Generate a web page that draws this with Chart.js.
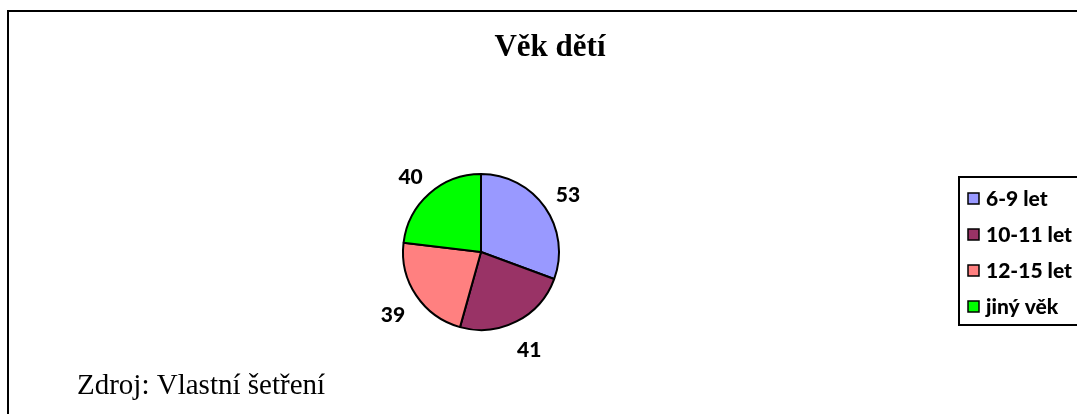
<!DOCTYPE html>
<html>
<head>
<meta charset="utf-8">
<script src="https://cdn.jsdelivr.net/npm/chart.js@4/dist/chart.umd.min.js"></script>
<style>
  html, body { margin: 0; padding: 0; background: #fff; }
  #wrap { width: 1077px; height: 414px; position: relative; }
</style>
</head>
<body>
<div id="wrap"><canvas id="chart"></canvas></div>
<script>
const title = 'Věk dětí'
const source = 'Zdroj: Vlastní šetření'
const categories = ['6-9 let', '10-11 let', '12-15 let', 'jiný věk']
const counts = [53, 41, 39, 40]
const sliceColors = ['#9999FF', '#993366', '#FF8080', '#00FF00']

const labelFont = '900 21px Lato, "Open Sans", sans-serif'

// frame, title and source line
const framePlugin = {
  id: 'frame',
  afterDraw(chart) {
    const ctx = chart.ctx
    ctx.save()
    ctx.strokeStyle = '#000'
    ctx.lineWidth = 2
    ctx.beginPath()
    ctx.moveTo(8, 420)
    ctx.lineTo(8, 11)
    ctx.lineTo(1085, 11)
    ctx.stroke()

    ctx.fillStyle = '#000'
    ctx.textBaseline = 'middle'
    ctx.textAlign = 'center'
    ctx.font = 'bold 31px "Liberation Serif", "Times New Roman", serif'
    ctx.fillText(title, 550, 48)

    ctx.textAlign = 'left'
    ctx.font = '29px "Liberation Serif", "Times New Roman", serif'
    ctx.fillText(source, 77, 386)
    ctx.restore()
  }
}

// value labels outside each slice
const valueLabels = {
  id: 'valueLabels',
  afterDatasetsDraw(chart) {
    const ctx = chart.ctx
    const meta = chart.getDatasetMeta(0)
    ctx.save()
    ctx.font = labelFont
    ctx.fillStyle = '#000'
    ctx.textAlign = 'center'
    ctx.textBaseline = 'middle'
    meta.data.forEach((arc, i) => {
      const p = arc.getProps(['x', 'y', 'startAngle', 'endAngle', 'outerRadius'], true)
      const mid = (p.startAngle + p.endAngle) / 2
      const d = p.outerRadius + 28
      ctx.fillText(String(counts[i]), p.x + Math.cos(mid) * d, p.y + Math.sin(mid) * d + 4)
    })
    ctx.restore()
  }
}

// boxed legend on the right
const boxLegend = {
  id: 'boxLegend',
  afterDraw(chart) {
    const ctx = chart.ctx
    const ds = chart.data.datasets[0]
    const left = 959, top = 177, bottom = 325
    ctx.save()
    ctx.strokeStyle = '#000'
    ctx.lineWidth = 2
    ctx.strokeRect(left, top, 140, bottom - top)
    ctx.font = labelFont
    ctx.textBaseline = 'middle'
    ctx.textAlign = 'left'
    chart.data.labels.forEach((lab, i) => {
      const cy = 198 + i * 36
      ctx.fillStyle = ds.backgroundColor[i]
      ctx.fillRect(968, cy - 5, 11, 11)
      ctx.lineWidth = 1.5
      ctx.strokeRect(968, cy - 5, 11, 11)
      ctx.fillStyle = '#000'
      ctx.fillText(lab, 986, cy + 1)
    })
    ctx.restore()
  }
}

new Chart(document.getElementById('chart'), {
  type: 'pie',
  data: {
    labels: categories,
    datasets: [{
      data: counts,
      backgroundColor: sliceColors,
      borderColor: '#000',
      borderWidth: 2
    }]
  },
  options: {
    responsive: true,
    maintainAspectRatio: false,
    animation: false,
    events: [],
    layout: { padding: { left: 402, top: 173, right: 517, bottom: 83 } },
    plugins: {
      legend: { display: false },
      tooltip: { enabled: false },
      title: { display: false }
    }
  },
  plugins: [framePlugin, valueLabels, boxLegend]
})
</script>
</body>
</html>
